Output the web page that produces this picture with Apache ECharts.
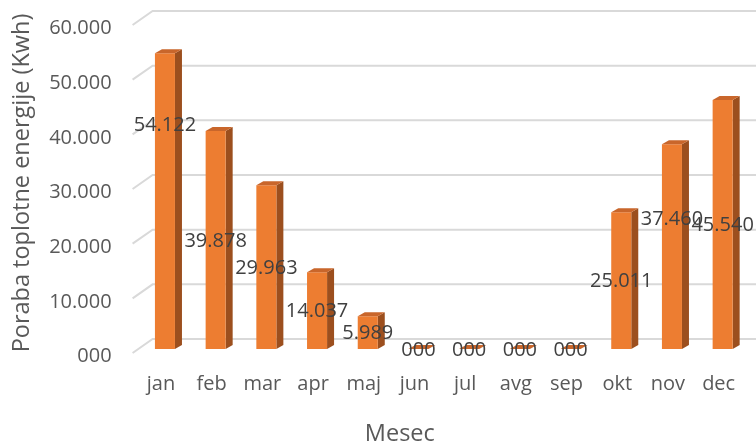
<!DOCTYPE html>
<html>
<head>
<meta charset="utf-8">
<script src="https://cdn.jsdelivr.net/npm/echarts@6/dist/echarts.min.js"></script>
<style>
  html, body { margin: 0; padding: 0; background: #ffffff; }
  #chart { width: 756px; height: 447px; }
</style>
</head>
<body>
<div id="chart"></div>
<script>
// Monthly heat energy consumption
const months = ['jan', 'feb', 'mar', 'apr', 'maj', 'jun', 'jul', 'avg', 'sep', 'okt', 'nov', 'dec'];
const consumption = [54122, 39878, 29963, 14037, 5989, 0, 0, 0, 0, 25011, 37460, 45540];
const yTicks = [0, 10000, 20000, 30000, 40000, 50000, 60000];

// Where each value label sits along its bar (fraction of bar height)
const labelPlacement = { jan: 0.76, nov: 0.64 };

// 3D look: depth offset of the bar sides and the back wall
const BAR_DX = 7, BAR_DY = 4;
const WALL_DX = 20, WALL_DY = 14;

function fmt(v) {
  if (v === 0) return '000';
  return String(v).replace(/\B(?=(\d{3})+(?!\d))/g, '.');
}

const FONT = '"Open Sans", "DejaVu Sans", sans-serif';

const chart = echarts.init(document.getElementById('chart'), null, { renderer: 'canvas' });

const option = {
  animation: false,
  backgroundColor: '#ffffff',
  grid: { left: 139.6, right: 8, top: 21, bottom: 98, outerBoundsMode: 'none', containLabel: false },
  xAxis: {
    type: 'category',
    data: months,
    axisLine: { show: false },
    axisTick: { show: false },
    axisLabel: {
      color: '#595959', fontFamily: FONT, fontSize: 20, margin: 25,
      padding: [0, 8, 0, 0]
    },
    name: 'Mesec',
    nameLocation: 'middle',
    nameGap: 73,
    nameTextStyle: { color: '#595959', fontFamily: FONT, fontSize: 23.5, padding: [0, 88, 0, 0] }
  },
  yAxis: {
    type: 'value',
    min: 0, max: 60000, interval: 10000,
    axisLine: { show: false },
    axisTick: { show: false },
    splitLine: { show: false },
    axisLabel: {
      color: '#595959', fontFamily: FONT, fontSize: 20, margin: 28,
      verticalAlign: 'top', lineHeight: 15,
      formatter: fmt
    },
    name: 'Poraba toplotne energije (Kwh)',
    nameLocation: 'middle',
    nameGap: 105,
    nameTextStyle: { color: '#595959', fontFamily: FONT, fontSize: 23.5, padding: [0, 0, 0, 4] }
  },
  series: [
    {
      // floor and wall gridlines, bent back in depth at the left edge
      type: 'custom',
      silent: true,
      z: 1,
      data: yTicks.map(v => [0, v]),
      renderItem: function (params, api) {
        const cs = params.coordSys;
        const y = api.coord([0, api.value(1)])[1];
        const fx = cs.x - 7, fy = y + 4;
        const bx = fx + WALL_DX, by = fy - WALL_DY;
        return {
          type: 'polyline',
          shape: { points: [[fx, fy], [bx, by], [cs.x + cs.width + 40, by]] },
          style: { stroke: '#d9d9d9', lineWidth: 2, fill: null }
        };
      }
    },
    {
      // 3D bars: front face, right side, top
      type: 'custom',
      z: 2,
      data: consumption.map((v, i) => [i, v]),
      renderItem: function (params, api) {
        const i = api.value(0), v = api.value(1);
        const base = api.coord([i, 0]);
        const top = api.coord([i, v]);
        const bw = api.size([1, 0])[0] * 0.395;
        const x0 = top[0] - bw / 2, x1 = top[0] + bw / 2;
        const yt = top[1], yb = base[1];
        const children = [];
        children.push({
          type: 'polygon',
          shape: { points: [[x1, yt], [x1 + BAR_DX, yt - BAR_DY], [x1 + BAR_DX, yb - BAR_DY], [x1, yb]] },
          style: { fill: '#9c4f1e' }
        });
        children.push({
          type: 'rect',
          shape: { x: x0, y: yt, width: bw, height: yb - yt },
          style: { fill: '#ed7d31' }
        });
        children.push({
          type: 'polygon',
          shape: { points: [[x0, yt], [x0 + BAR_DX, yt - BAR_DY], [x1 + BAR_DX, yt - BAR_DY], [x1, yt]] },
          style: { fill: '#c9662b' }
        });
        return { type: 'group', children: children };
      }
    },
    {
      // value labels on the bars
      type: 'custom',
      z: 5,
      silent: true,
      data: consumption.map((v, i) => [i, v]),
      renderItem: function (params, api) {
        const i = api.value(0), v = api.value(1);
        const frac = labelPlacement[months[i]] != null ? labelPlacement[months[i]] : 0.5;
        const p = api.coord([i, v * frac]);
        return {
          type: 'text',
          x: p[0], y: p[1] + 1,
          style: {
            text: fmt(v),
            fill: '#404040',
            font: '20px ' + FONT,
            align: 'center',
            verticalAlign: 'middle'
          }
        };
      }
    }
  ]
};

chart.setOption(option);
</script>
</body>
</html>
